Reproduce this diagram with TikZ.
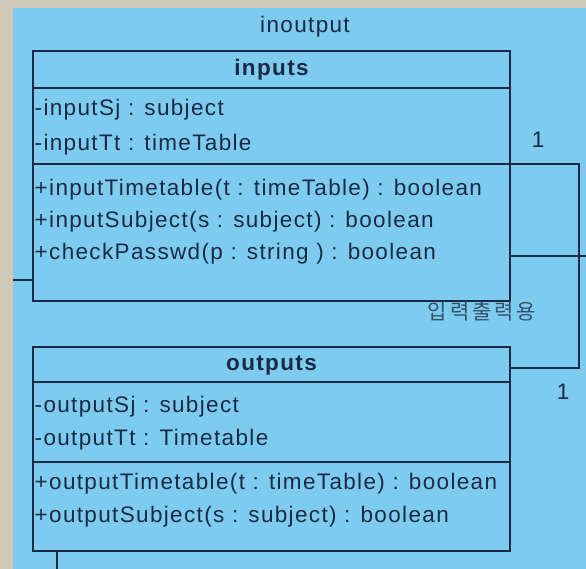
\documentclass[tikz,border=0pt]{standalone}
\usepackage{fontspec}
\setmainfont{Liberation Sans}[LetterSpace=6]
\newfontfamily\krfont{Noto Sans CJK KR}[LetterSpace=14]
\definecolor{bgblue}{HTML}{7DCCF0}
\definecolor{beige}{HTML}{CFC9B6}
\definecolor{ink}{HTML}{1B2A44}
\definecolor{krink}{HTML}{34506A}
\begin{document}
\begin{tikzpicture}[x=1pt,y=-1pt,
  umlbox/.style={draw=ink,line width=1.8pt,rectangle,inner sep=0pt},
  sep/.style={draw=ink,line width=1.8pt},
  conn/.style={draw=ink,line width=1.8pt},
  member/.style={anchor=west,inner sep=0pt,text=ink,font=\fontsize{22.5}{26}\selectfont},
  title/.style={inner sep=0pt,text=ink,font=\fontsize{22.5}{26}\selectfont\bfseries},
  plain/.style={inner sep=0pt,text=ink,font=\fontsize{22.5}{26}\selectfont}]
\useasboundingbox (0,0) rectangle (586,569);
\fill[beige] (0,0) rectangle (586,569);
\fill[bgblue] (12.7,8) rectangle (586,569);
% title of package
\node[plain] (pkg) at (305,27) {inoutput};
% inputs class
\node[umlbox,minimum width=477pt,minimum height=250pt] (inputs) at (271.5,176) {};
\draw[sep] (inputs.west |- 0,88) -- (inputs.east |- 0,88);
\draw[sep] (inputs.west |- 0,164) -- (inputs.east |- 0,164);
\node[title] (inname) at (271.5,70) {inputs};
\node[member] (ia1) at (34.5,110) {-inputSj : subject};
\node[member] (ia2) at (34.5,145) {-inputTt : timeTable};
\node[member] (io1) at (34.5,190) {+inputTimetable(t : timeTable) : boolean};
\node[member] (io2) at (34.5,222) {+inputSubject(s : subject) : boolean};
\node[member] (io3) at (34.5,254) {+checkPasswd(p : string ) : boolean};
% outputs class
\node[umlbox,minimum width=477pt,minimum height=204pt] (outputs) at (271.5,449) {};
\draw[sep] (outputs.west |- 0,382) -- (outputs.east |- 0,382);
\draw[sep] (outputs.west |- 0,462) -- (outputs.east |- 0,462);
\node[title] (outname) at (271.5,365) {outputs};
\node[member] (oa1) at (34.5,407) {-outputSj : subject};
\node[member] (oa2) at (34.5,440) {-outputTt : Timetable};
\node[member] (oo1) at (34.5,484) {+outputTimetable(t : timeTable) : boolean};
\node[member] (oo2) at (34.5,517) {+outputSubject(s : subject) : boolean};
% connectors
\coordinate (rc) at (579,0);
\draw[conn] (inputs.east |- 0,164) -| (rc |- 0,368) -- (outputs.east |- 0,368);
\coordinate (rightend) at (586,256);
\draw[conn] (inputs.east |- rightend) -- (rightend);
\coordinate (leftend) at (12.7,280);
\draw[conn] (leftend) -- (inputs.west |- leftend);
\coordinate (bottomend) at (57,569);
\draw[conn] (outputs.south -| bottomend) -- (bottomend);
% labels
\node[plain] (m1) at (538,140) {1};
\node[plain] (m2) at (563,392) {1};
\node[inner sep=0pt,text=krink,font=\krfont\fontsize{21}{24}\selectfont] (assoc) at (482,312) {입력출력용};
\end{tikzpicture}
\end{document}
